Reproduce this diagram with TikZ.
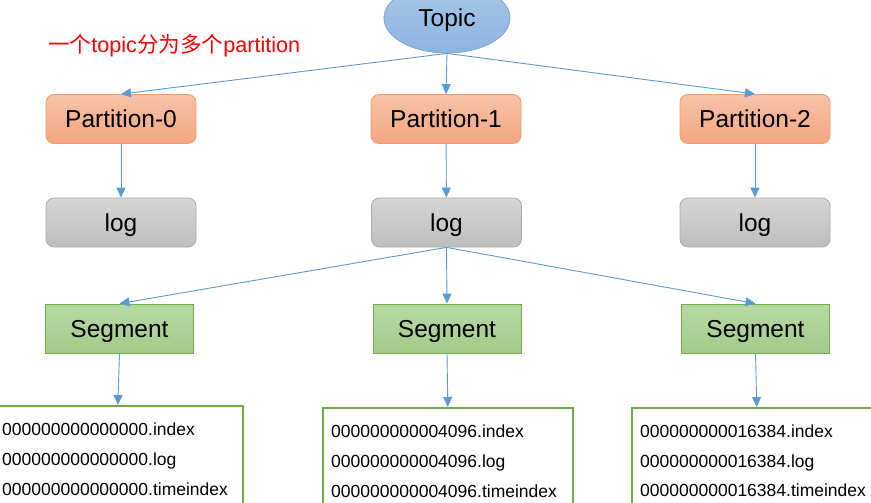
\documentclass[tikz,border=0pt]{standalone}
\usepackage{fontspec}
\setmainfont{Liberation Sans}
\newfontfamily\cjk{Noto Sans CJK SC}
\usetikzlibrary{arrows.meta,shapes.geometric}
\definecolor{arrowblue}{HTML}{5B9BD5}
\definecolor{notered}{HTML}{FF0000}
\definecolor{topictop}{HTML}{AAC8EA}
\definecolor{topicbot}{HTML}{8DB3E0}
\definecolor{topicline}{HTML}{7BA4D6}
\definecolor{parttop}{HTML}{F7C2A7}
\definecolor{partbot}{HTML}{F4A680}
\definecolor{partline}{HTML}{F09C68}
\definecolor{logtop}{HTML}{D6D6D6}
\definecolor{logbot}{HTML}{BDBDBD}
\definecolor{logline}{HTML}{ABABAB}
\definecolor{segtop}{HTML}{B8D9A5}
\definecolor{segbot}{HTML}{A2CB8A}
\definecolor{segline}{HTML}{70AD47}
\tikzset{
  bigfont/.style={font=\fontsize{24.5}{28}\selectfont, text height=17.5pt, text depth=0pt},
  topicnode/.style={ellipse, draw=topicline, line width=0.8pt, top color=topictop,
    bottom color=topicbot, minimum width=126pt, minimum height=70pt, inner sep=0pt, bigfont},
  partbox/.style={rectangle, rounded corners=8pt, draw=partline, line width=0.8pt,
    top color=parttop, bottom color=partbot, minimum width=150pt, minimum height=49pt, bigfont},
  logbox/.style={rectangle, rounded corners=8pt, draw=logline, line width=0.8pt,
    top color=logtop, bottom color=logbot, minimum width=150pt, minimum height=49pt, bigfont},
  segbox/.style={rectangle, draw=segline, line width=0.8pt,
    top color=segtop, bottom color=segbot, minimum width=148pt, minimum height=49pt, bigfont},
  filebox/.style={rectangle, draw=segline, line width=1.6pt, fill=white,
    minimum width=250pt, minimum height=120pt, anchor=north west},
  filetext/.style={anchor=base west, inner sep=0pt, font=\fontsize{17.5}{21}\selectfont},
  note/.style={anchor=west, inner sep=0pt, text=notered, font=\fontsize{21.6}{25}\selectfont},
  link/.style={draw=arrowblue, line width=0.9pt, -{Triangle[length=10pt,width=9pt]}},
}

\begin{document}
\begin{tikzpicture}[x=1pt,y=-1pt]
  \useasboundingbox (0,0) rectangle (871,503);
  \clip (0,0) rectangle (871,503);
  \fill[white] (0,0) rectangle (871,503);

  % topic and its partitions
  \node[topicnode] (topic) at (447,18) {Topic};
  \node[note] (hint) at (48,46) {{\cjk 一个}topic{\cjk 分为多个}partition};

  \node[partbox] (p0) at (121,119) {Partition-0};
  \node[partbox] (p1) at (446,119) {Partition-1};
  \node[partbox] (p2) at (755,119) {Partition-2};

  \node[logbox] (l0) at (121,222.5) {log};
  \node[logbox] (l1) at (446.5,222.5) {log};
  \node[logbox] (l2) at (755,222.5) {log};

  \node[segbox] (s0) at (119.5,328.5) {Segment};
  \node[segbox] (s1) at (447,328.5) {Segment};
  \node[segbox] (s2) at (755.5,328.5) {Segment};

  % segment files
  \node[filebox] (f0) at (-8,405) {};
  \node[filebox] (f1) at (322,407) {};
  \node[filebox] (f2) at (631,407) {};

  \node[filetext] (f0a) at (2,435) {000000000000000.index};
  \node[filetext] (f0b) at (2,465) {000000000000000.log};
  \node[filetext] (f0c) at (2,495) {000000000000000.timeindex};
  \node[filetext] (f1a) at (331,437) {000000000004096.index};
  \node[filetext] (f1b) at (331,467) {000000000004096.log};
  \node[filetext] (f1c) at (331,497) {000000000004096.timeindex};
  \node[filetext] (f2a) at (640,437) {000000000016384.index};
  \node[filetext] (f2b) at (640,467) {000000000016384.log};
  \node[filetext] (f2c) at (640,496) {000000000016384.timeindex};

  % connectors
  \draw[link] (topic.south) -- (p0.north);
  \draw[link] (topic.south) -- (p1.north);
  \draw[link] (topic.south) -- (p2.north);
  \draw[link] (p0) -- (l0);
  \draw[link] (p1) -- (l1);
  \draw[link] (p2) -- (l2);
  \draw[link] (l1.south) -- (s0.north);
  \draw[link] (l1.south) -- (s1.north);
  \draw[link] (l1.south) -- (s2.north);
  \draw[link] (s0.south) -- (f0.north);
  \draw[link] (s1.south) -- (f1.north);
  \draw[link] (s2.south) -- (f2.north);
\end{tikzpicture}
\end{document}
